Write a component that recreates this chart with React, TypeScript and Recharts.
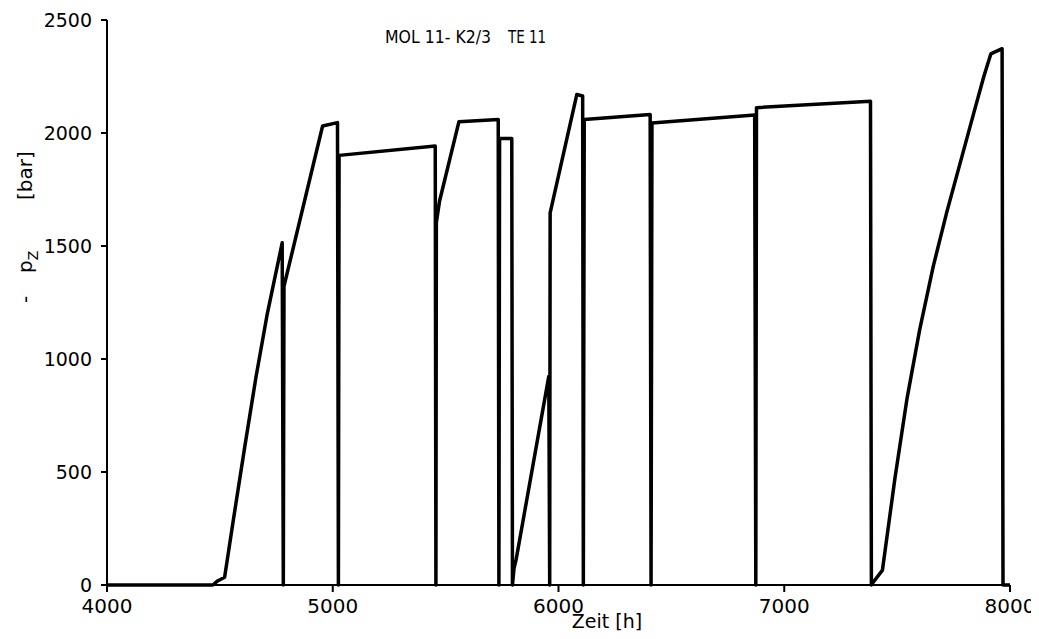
import { LineChart, Line, XAxis, YAxis } from 'recharts';

// time in hours and -p_Z in bar in drawing order
const timeH = [
  4000, 4469, 4490, 4521, 4560, 4610, 4660, 4710, 4776, 4781, 4784, 4955, 5021, 5025,
  5028, 5454, 5457, 5459, 5473, 5559, 5733, 5736, 5739, 5793, 5796, 5803, 5812, 5957,
  5961, 5963, 6081, 6107, 6110, 6114, 6406, 6410, 6414, 6869, 6874, 6877, 7382, 7386,
  7391, 7435, 7490, 7543, 7600, 7660, 7720, 7780, 7840, 7884, 7915, 7965, 7969, 8000,
];
const pressure = [
  0, 0, 18, 34, 290, 610, 920, 1200, 1514, 0, 1322, 2031, 2046, 0,
  1901, 1942, 0, 1604, 1698, 2050, 2060, 0, 1976, 1976, 0, 74, 111, 923,
  0, 1647, 2170, 2164, 0, 2060, 2082, 0, 2044, 2080, 0, 2112, 2141, 0,
  8, 66, 470, 820, 1130, 1410, 1650, 1870, 2090, 2250, 2350, 2373, 0, 0,
];
const xTicks = [4000, 5000, 6000, 7000, 8000];
const yTicks = [0, 500, 1000, 1500, 2000, 2500];

const data = timeH.map((t, i) => ({ t, p: pressure[i] }));

const font = 'DejaVu Sans';

export default function App() {
  return (
    <div style={{ width: 1039, height: 639, margin: -8, overflow: 'hidden' }}>
      <LineChart width={1039} height={639} data={data} margin={{ top: 20, right: 29, left: 0, bottom: 0 }}>
        <XAxis
          dataKey="t"
          type="number"
          domain={[4000, 8000]}
          ticks={xTicks}
          height={54}
          stroke="#000"
          strokeWidth={2}
          tickSize={7}
          tickMargin={7}
          tick={{ fill: '#000', fontSize: 20, fontFamily: font }}
        />
        <YAxis
          type="number"
          domain={[0, 2500]}
          ticks={yTicks}
          width={107}
          stroke="#000"
          strokeWidth={2}
          tickSize={6}
          tickMargin={9}
          tick={{ fill: '#000', fontSize: 19, fontFamily: font }}
        />
        <Line
          type="linear"
          dataKey="p"
          stroke="#000"
          strokeWidth={3.5}
          dot={false}
          isAnimationActive={false}
          strokeLinejoin="round"
        />
        <text x={385} y={43} fontSize={17} fontFamily={font} fill="#000" textLength={106} lengthAdjust="spacingAndGlyphs">
          MOL 11- K2/3
        </text>
        <text x={508} y={43} fontSize={17} fontFamily={font} fill="#000" textLength={38} lengthAdjust="spacingAndGlyphs">
          TE 11
        </text>
        <text x={607} y={628} fontSize={19} fontFamily={font} fill="#000" textAnchor="middle">Zeit [h]</text>
        <g transform="translate(32, 0) rotate(-90)" fontSize={20} fontFamily={font} fill="#000">
          <text x={-303} y={0}>-</text>
          <text x={-273} y={0}>
            p<tspan fontSize={14} dy={6}>Z</tspan>
          </text>
          <text x={-200} y={0}>[bar]</text>
        </g>
      </LineChart>
    </div>
  );
}
